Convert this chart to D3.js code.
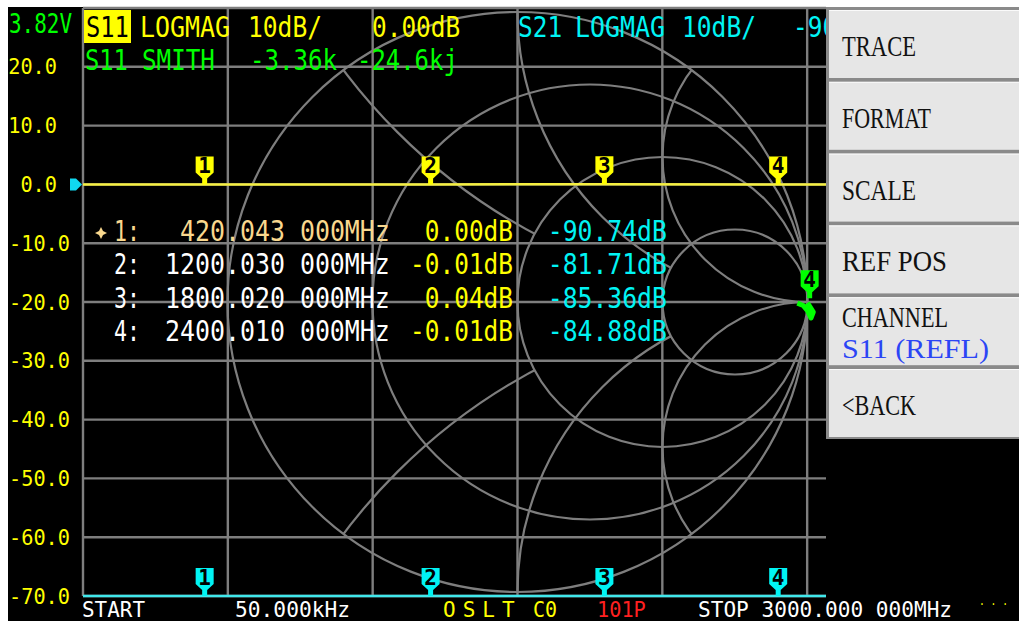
<!DOCTYPE html>
<html>
<head>
<meta charset="utf-8">
<script src="https://cdn.jsdelivr.net/npm/d3@7"></script>
<style>
html, body { margin: 0; padding: 0; background: #fff; }
svg { display: block; }
</style>
</head>
<body>
<svg id="view"></svg>
<script>
// values
var startMHz = 0.05, stopMHz = 3000;
var dbGrid = [30, 20, 10, 0, -10, -20, -30, -40, -50, -60, -70];
var dbTicks = [20, 10, 0, -10, -20, -30, -40, -50, -60, -70];
var markerFreq = [420.043, 1200.030, 1800.020, 2400.010];
var markerS11 = [0.00, -0.01, 0.04, -0.01];
var markerS21 = [-90.74, -81.71, -85.36, -84.88];
var traceFreq = [0.05, 420.043, 1200.030, 1800.020, 2400.010, 3000];
var traceS11 = [0.00, 0.00, -0.01, 0.04, -0.01, 0.00];
var traceS21 = [-88.0, -90.74, -81.71, -85.36, -84.88, -85.0];
// S11 on the smith chart (reflection coeff re / im), bunched at the open end
var smithRe = [0.965, 0.985, 1.0, 1.012, 1.02, 1.0];
var smithIm = [-0.004, -0.012, -0.03, -0.055, -0.035, -0.003];
var marker4Z = [-3360, -24600];
var rCircles = [3, 1, 1/3];
var xCircles = [2, 1, 0.5];
var menuItems = ["TRACE", "FORMAT", "SCALE", "REF POS", "CHANNEL", "<BACK"];
var menuWidths = [74, 89, 74, 105, 106, 74];

var W = 1019, H = 621;
var svg = d3.select("#view").attr("width", W).attr("height", H);
var defs = svg.append("defs");

svg.append("rect").attr("width", W).attr("height", H).attr("fill", "#fff");
svg.append("rect").attr("x", 8).attr("y", 7).attr("width", W - 8).attr("height", H - 7).attr("fill", "#000");

var x0 = 83, x1 = 952, y0 = 8, y1 = 596, clipX = 826;
var x = d3.scaleLinear().domain([startMHz, stopMHz]).range([x0, x1]);
var y = d3.scaleLinear().domain([30, -70]).range([y0, y1]).clamp(true);
var gray = "#7e7e7e";
var yellow = "#ffff00", cyan = "#00f4f4", green = "#00ff00";
var mono = "'DejaVu Sans Mono', monospace";

defs.append("clipPath").attr("id", "plotclip")
	.append("rect").attr("x", x0 - 2).attr("y", y0 - 2).attr("width", clipX - x0 + 2).attr("height", y1 - y0 + 4);
defs.append("clipPath").attr("id", "textclip")
	.append("rect").attr("x", 0).attr("y", 0).attr("width", clipX).attr("height", H);
var plot = svg.append("g").attr("clip-path", "url(#plotclip)");

// grid
var cols = d3.range(7).map(i => x0 + i * (x1 - x0) / 6);
plot.append("g").selectAll("line").data(cols).join("line")
	.attr("x1", d => d).attr("x2", d => d).attr("y1", y0).attr("y2", y1)
	.attr("stroke", gray).attr("stroke-width", 2.4);
plot.append("g").selectAll("line").data(dbGrid).join("line")
	.attr("x1", x0).attr("x2", x1).attr("y1", d => y(d)).attr("y2", d => y(d))
	.attr("stroke", gray).attr("stroke-width", 2.4);

// smith chart
var cx = (x0 + x1) / 2, cy = (y0 + y1) / 2, R = 290;
var gx = d3.scaleLinear().domain([-1, 1]).range([cx - R, cx + R]);
var gy = d3.scaleLinear().domain([-1, 1]).range([cy + R, cy - R]);

defs.append("clipPath").attr("id", "outer")
	.append("circle").attr("cx", cx).attr("cy", cy).attr("r", R);

function holeMask(id, r) {
	var m = defs.append("mask").attr("id", id).attr("maskUnits", "userSpaceOnUse")
		.attr("x", 0).attr("y", 0).attr("width", W).attr("height", H);
	m.append("rect").attr("width", W).attr("height", H).attr("fill", "#fff");
	m.append("circle").attr("cx", gx(r / (1 + r))).attr("cy", cy).attr("r", R / (1 + r)).attr("fill", "#000");
}
holeMask("hole3", rCircles[0]);
holeMask("hole1", rCircles[1]);

function rCircle(g, r) {
	g.append("circle").attr("cx", gx(r / (1 + r))).attr("cy", cy).attr("r", R / (1 + r));
}
function xCirclePair(g, xv) {
	[1, -1].forEach(s => {
		g.append("circle").attr("cx", gx(1)).attr("cy", gy(s / xv)).attr("r", R / xv);
	});
}

var smith = plot.append("g").attr("fill", "none").attr("stroke", gray).attr("stroke-width", 2.2);
var sA = smith.append("g").attr("clip-path", "url(#outer)");
xCirclePair(sA, xCircles[0]);
rCircle(sA, rCircles[0]);
sA.append("line").attr("x1", gx(-1)).attr("x2", gx(1)).attr("y1", cy).attr("y2", cy);
var sB = smith.append("g").attr("clip-path", "url(#outer)").append("g").attr("mask", "url(#hole3)");
xCirclePair(sB, xCircles[1]);
rCircle(sB, rCircles[1]);
var sC = smith.append("g").attr("clip-path", "url(#outer)").append("g").attr("mask", "url(#hole1)");
xCirclePair(sC, xCircles[2]);
rCircle(sC, rCircles[2]);
smith.append("circle").attr("cx", cx).attr("cy", cy).attr("r", R);

// traces
var line = d3.line().x((d, i) => x(traceFreq[i])).y(d => y(d));
plot.append("path").datum(traceS21).attr("d", line)
	.attr("fill", "none").attr("stroke", "#40e8ec").attr("stroke-width", 2.5);
plot.append("path").datum(traceS11).attr("d", line)
	.attr("fill", "none").attr("stroke", "#f6f040").attr("stroke-width", 2.5);

var smithLine = d3.line().x((d, i) => gx(smithRe[i])).y((d, i) => gy(smithIm[i]));
plot.append("path").datum(smithRe).attr("d", smithLine)
	.attr("fill", "none").attr("stroke", green).attr("stroke-width", 5).attr("stroke-linejoin", "round");

// markers
var markerPath = "M-9,-28H9V-12L2.5,-6V0H-2.5V-6L-9,-12Z";
function drawMarker(g, px, py, n, color) {
	var m = g.append("g").attr("transform", "translate(" + px + "," + py + ")");
	m.append("path").attr("d", markerPath).attr("fill", color);
	m.append("text").attr("y", -11).attr("text-anchor", "middle")
		.attr("font-family", mono).attr("font-weight", "bold").attr("font-size", 21)
		.attr("fill", "#000").text(n);
}
markerFreq.forEach((f, i) => {
	drawMarker(plot, x(f), y(markerS11[i]), i + 1, yellow);
	drawMarker(plot, x(f), y(markerS21[i]), i + 1, cyan);
});

var zr = marker4Z[0], zi = marker4Z[1];
var den = (zr + 50) * (zr + 50) + zi * zi;
var gRe = ((zr - 50) * (zr + 50) + zi * zi) / den;
var gIm = (zi * (zr + 50) - (zr - 50) * zi) / den;
drawMarker(plot, gx(gRe) + 2, gy(gIm) - 5, 4, green);

// reference position arrow
svg.append("path").attr("transform", "translate(" + (x0 - 1) + "," + y(0) + ")")
	.attr("d", "M-12,-6H-6L0,0L-6,6H-12Z").attr("fill", "#10d8f0");

// text helper: mono text squeezed to the screen's character pitch
var textLayer = svg.append("g").attr("clip-path", "url(#textclip)");
function txt(tx, ty, str, o) {
	var t = (o.layer || textLayer).append("text").text(str)
		.attr("font-family", o.font || mono).attr("font-size", o.size)
		.attr("fill", o.fill).style("white-space", "pre");
	if (o.pitch) {
		var sx = o.pitch / (0.602 * o.size);
		t.attr("transform", "translate(" + tx + "," + ty + ") scale(" + sx.toFixed(3) + ",1)");
	} else {
		t.attr("x", tx).attr("y", ty);
	}
	if (o.width) t.attr("textLength", o.width).attr("lengthAdjust", "spacingAndGlyphs");
	return t;
}
function txtEnd(ex, ty, str, o) {
	return txt(ex - str.length * o.pitch, ty, str, o);
}

var big = 29;
var dbStr = v => v.toFixed(2) + "dB";

// header lines
textLayer.append("rect").attr("x", 84).attr("y", 10).attr("width", 47).attr("height", 33).attr("fill", yellow);
txt(86, 37, "S11", { size: big, fill: "#000", pitch: 14.3 });
txt(140, 37, "LOGMAG", { size: big, fill: yellow, pitch: 15 });
txt(248, 37, "10dB/", { size: big, fill: yellow, pitch: 14.8 });
txt(372, 37, dbStr(markerS11[0]), { size: big, fill: yellow, pitch: 14.7 });
txt(518, 37, "S21", { size: big, fill: cyan, pitch: 14.7 });
txt(575, 37, "LOGMAG", { size: big, fill: cyan, pitch: 15 });
txt(682, 37, "10dB/", { size: big, fill: cyan, pitch: 14.8 });
txt(793, 37, dbStr(markerS21[0]).slice(0, 3), { size: big, fill: cyan, pitch: 14.7 });

txt(85, 70, "S11", { size: big, fill: green, pitch: 14.3 });
txt(142, 70, "SMITH", { size: big, fill: green, pitch: 14.6 });
txt(250, 70, (marker4Z[0] / 1000).toFixed(2) + "k", { size: big, fill: green, pitch: 14.5 });
txt(357, 70, (marker4Z[1] / 1000).toFixed(1) + "kj", { size: big, fill: green, pitch: 14.4 });

// left axis labels
txt(9, 33, "3.82V", { size: 27, fill: green, width: 63 });
dbTicks.forEach(d => {
	var s = d.toFixed(1);
	var lx = d >= 0 ? 57 - s.length * 12.2 : 9;
	txt(lx, y(d) + 7.5, s, { size: 21, fill: yellow, pitch: 12.2 });
});

// marker table
markerFreq.forEach((f, i) => {
	var ry = 241 + 33.3 * i;
	var col = i === 0 ? "#f9d88e" : "#fff";
	if (i === 0) {
		textLayer.append("path").attr("transform", "translate(101," + (ry - 8) + ")")
			.attr("d", "M0,-6L2,-2L6,0L2,2L0,6L-2,2L-6,0L-2,-2Z").attr("fill", col);
	}
	txt(114, ry, (i + 1) + ":", { size: big, fill: col, pitch: 13 });
	txtEnd(390, ry, f.toFixed(3) + " 000MHz", { size: big, fill: col, pitch: 15 });
	txtEnd(513, ry, dbStr(markerS11[i]), { size: big, fill: yellow, pitch: 14.7 });
	txtEnd(667, ry, dbStr(markerS21[i]), { size: big, fill: cyan, pitch: 14.9 });
});

// bottom status line
var by = 617;
txt(82, by, "START", { size: 21, fill: "#fff", pitch: 12.6, layer: svg });
txt(235, by, "50.000kHz", { size: 21, fill: "#fff", pitch: 12.8, layer: svg });
txt(443, by, "OSLT", { size: 21, fill: yellow, layer: svg }).attr("letter-spacing", 7);
txt(533, by, "C0", { size: 21, fill: yellow, pitch: 12, layer: svg });
txt(597, by, "101P", { size: 21, fill: "#ff2020", pitch: 12.2, layer: svg });
txt(698, by, "STOP 3000.000 000MHz", { size: 21, fill: "#fff", pitch: 12.7, layer: svg });
txt(979, 605, ". . .", { size: 13, fill: yellow, pitch: 5.8, layer: svg });

// menu
var menu = svg.append("g");
menu.append("rect").attr("x", 826).attr("y", 7).attr("width", W - 826).attr("height", 432).attr("fill", "#8a8a8a");
var btnH = 68, btnStep = 71.8;
menuItems.forEach((m, i) => {
	var top = 10 + i * btnStep;
	menu.append("rect").attr("x", 829).attr("y", top).attr("width", W - 829).attr("height", btnH).attr("fill", "#e6e6e6");
	menu.append("line").attr("x1", 829).attr("x2", W).attr("y1", top + 0.5).attr("y2", top + 0.5)
		.attr("stroke", "#fafafa").attr("stroke-width", 1);
	var ty = m === "CHANNEL" ? top + 30 : top + 46;
	txt(842, ty, m, { size: 29, fill: "#111", font: "'Liberation Serif', serif", width: menuWidths[i], layer: menu });
	if (m === "CHANNEL") {
		txt(842, top + 61, "S11 (REFL)", { size: 27, fill: "#2b45f5", font: "'Liberation Serif', serif", width: 147, layer: menu });
	}
});
</script>
</body>
</html>
